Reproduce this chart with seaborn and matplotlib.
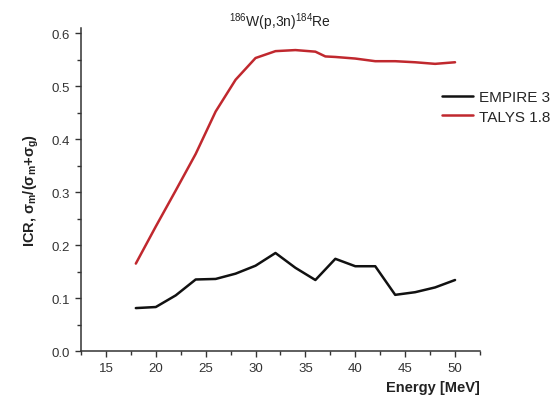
import matplotlib
matplotlib.use('Agg')
from matplotlib import pyplot as plt
from matplotlib.ticker import MultipleLocator
import pandas as pd
import seaborn as sns

# значения
energy_empire = [18, 20, 22, 24, 26, 28, 30, 32, 34, 36, 38, 40, 42, 44, 46, 48, 50]
icr_empire = [0.081, 0.083, 0.105, 0.135, 0.136, 0.146, 0.161, 0.185, 0.157, 0.134,
              0.174, 0.160, 0.160, 0.106, 0.111, 0.120, 0.134]

energy_talys = [18, 20, 22, 24, 26, 28, 30, 32, 34, 36, 37, 38, 40, 42, 44, 46, 48, 50]
icr_talys = [0.165, 0.235, 0.303, 0.372, 0.452, 0.512, 0.553, 0.566, 0.568, 0.565,
             0.556, 0.555, 0.552, 0.547, 0.547, 0.545, 0.542, 0.545]

df = pd.concat([
    pd.DataFrame({'energy': energy_empire, 'icr': icr_empire, 'model': 'EMPIRE 3'}),
    pd.DataFrame({'energy': energy_talys, 'icr': icr_talys, 'model': 'TALYS 1.8'}),
])

sns.set_style('ticks')
plt.rcParams['font.family'] = ['Liberation Sans', 'DejaVu Sans']
plt.rcParams['mathtext.default'] = 'regular'

fig = plt.figure(figsize=(5.6, 4.06), dpi=100)
ax = fig.add_axes([0.1446, 0.133, 0.7125, 0.796])

sns.lineplot(data=df, x='energy', y='icr', hue='model',
             palette={'EMPIRE 3': '#111111', 'TALYS 1.8': '#c0282e'},
             linewidth=1.8, ax=ax)

ax.set_xlim(12.5, 52.5)
ax.set_ylim(0, 0.61)
ax.xaxis.set_minor_locator(MultipleLocator(2.5))
ax.yaxis.set_minor_locator(MultipleLocator(0.05))
ax.set_xticks([15, 20, 25, 30, 35, 40, 45, 50])
ax.set_yticks([0.0, 0.1, 0.2, 0.3, 0.4, 0.5, 0.6])
ax.set_yticklabels(['0.0', '0.1', '0.2', '0.3', '0.4', '0.5', '0.6'])
ax.tick_params(which='major', length=4.5, width=1, colors='#333333', labelsize=9.5)
ax.tick_params(which='minor', length=3, width=1, color='#333333')
for s in ['left', 'bottom']:
    ax.spines[s].set_color('#333333')
    ax.spines[s].set_linewidth(1.1)
sns.despine(ax=ax)

ax.set_xlabel('Energy [MeV]', fontsize=10.5, fontweight='bold', color='#222222')
ax.xaxis.set_label_coords(1.0, -0.09)
ax.xaxis.label.set_ha('right')
ax.set_ylabel('ICR, σ$_m$/(σ$_m$+σ$_g$)', fontsize=10.5,
              fontweight='bold', color='#222222')
ax.yaxis.set_label_coords(-0.1, 0.5)
ax.set_title('$^{186}$W(p,3n)$^{184}$Re', fontsize=10, color='#222222', y=1.0, pad=1)

ax.legend(title=None, frameon=False, loc='upper left', bbox_to_anchor=(0.89, 0.825),
          fontsize=11, handlelength=2.0, handletextpad=0.4, labelspacing=0.35,
          borderaxespad=0)

plt.savefig('out.png', dpi=100)
